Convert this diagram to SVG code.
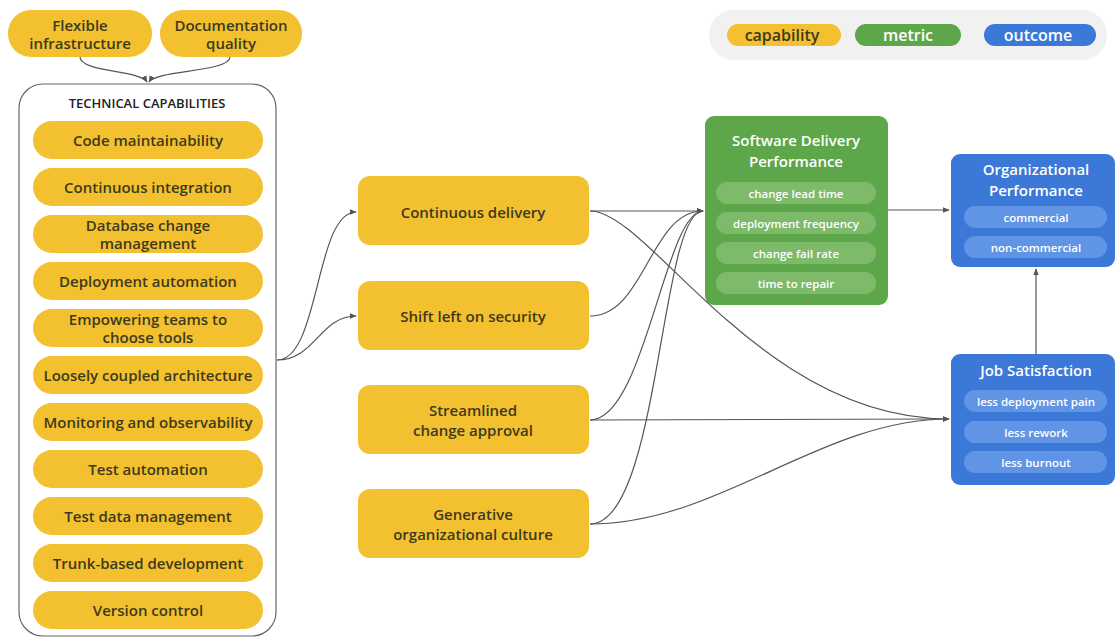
<svg xmlns="http://www.w3.org/2000/svg" width="1115" height="638" viewBox="0 0 1115 638">
<style>
text{font-family:"Open Sans","Liberation Sans",sans-serif;text-anchor:middle;dominant-baseline:central}
.cap{fill:#F3C02F}
.ct{fill:#3d3a1c;font-size:15px;font-weight:600}
.wt{fill:#fff;font-size:15px;font-weight:600}
.pt{fill:#fff;font-size:11.5px;font-weight:600}
.gp{fill:#7dba6a}
.bp{fill:#6095e6}
.conn{fill:none;stroke:#555;stroke-width:1.2}
</style>
<defs>
<marker id="ah" viewBox="0 0 10 10" refX="9" refY="5" markerWidth="7" markerHeight="7" orient="auto" markerUnits="userSpaceOnUse">
<path d="M0,1 L10,5 L0,9 z" fill="#555"/>
</marker>
</defs>
<rect width="1115" height="638" fill="#fff"/>

<g id="legend">
<rect x="709" y="10" width="398" height="50" rx="25" fill="#f1f1f1"/>
<rect x="727" y="24" width="114" height="22" rx="11" class="cap"/>
<text x="782" y="35" class="ct" style="font-size:16px">capability</text>
<rect x="855" y="24" width="106" height="22" rx="11" fill="#5da64a"/>
<text x="908" y="35" class="wt" style="font-size:16px">metric</text>
<rect x="984" y="24" width="112" height="22" rx="11" fill="#3b78d8"/>
<text x="1038" y="35" class="wt" style="font-size:16px">outcome</text>
</g>

<g id="flexible">
<rect x="8" y="10" width="144" height="47" rx="23" class="cap"/>
<text x="80" y="25" class="ct">Flexible</text>
<text x="80" y="43" class="ct">infrastructure</text>
</g>
<g id="documentation">
<rect x="160" y="10" width="142" height="47" rx="23" class="cap"/>
<text x="231" y="25" class="ct">Documentation</text>
<text x="231" y="43" class="ct">quality</text>
</g>

<g id="technical">
<rect x="19" y="84" width="257" height="552" rx="24" fill="#fff" stroke="#666" stroke-width="1.2"/>
<text x="147" y="103" style="fill:#222;font-size:13px;font-weight:600">TECHNICAL CAPABILITIES</text>
<rect x="33" y="121" width="230" height="38" rx="19" class="cap"/><text x="148" y="140" class="ct">Code maintainability</text>
<rect x="33" y="168" width="230" height="38" rx="19" class="cap"/><text x="148" y="187" class="ct">Continuous integration</text>
<rect x="33" y="215" width="230" height="38" rx="19" class="cap"/><text x="148" y="225" class="ct">Database change</text><text x="148" y="243" class="ct">management</text>
<rect x="33" y="262" width="230" height="38" rx="19" class="cap"/><text x="148" y="281" class="ct">Deployment automation</text>
<rect x="33" y="309" width="230" height="38" rx="19" class="cap"/><text x="148" y="319" class="ct">Empowering teams to</text><text x="148" y="337" class="ct">choose tools</text>
<rect x="33" y="356" width="230" height="38" rx="19" class="cap"/><text x="148" y="375" class="ct">Loosely coupled architecture</text>
<rect x="33" y="403" width="230" height="38" rx="19" class="cap"/><text x="148" y="422" class="ct">Monitoring and observability</text>
<rect x="33" y="450" width="230" height="38" rx="19" class="cap"/><text x="148" y="469" class="ct">Test automation</text>
<rect x="33" y="497" width="230" height="38" rx="19" class="cap"/><text x="148" y="516" class="ct">Test data management</text>
<rect x="33" y="544" width="230" height="38" rx="19" class="cap"/><text x="148" y="563" class="ct">Trunk-based development</text>
<rect x="33" y="591" width="230" height="38" rx="19" class="cap"/><text x="148" y="610" class="ct">Version control</text>
</g>

<g id="cd">
<rect x="358" y="176" width="231" height="69" rx="12" class="cap"/>
<text x="473" y="212" class="ct">Continuous delivery</text>
</g>
<g id="shiftleft">
<rect x="358" y="281" width="231" height="69" rx="12" class="cap"/>
<text x="473" y="316" class="ct">Shift left on security</text>
</g>
<g id="streamlined">
<rect x="358" y="385" width="231" height="69" rx="12" class="cap"/>
<text x="473" y="410" class="ct">Streamlined</text>
<text x="473" y="430" class="ct">change approval</text>
</g>
<g id="generative">
<rect x="358" y="489" width="231" height="69" rx="12" class="cap"/>
<text x="473" y="514" class="ct">Generative</text>
<text x="473" y="534" class="ct">organizational culture</text>
</g>

<g id="sdp">
<rect x="705" y="116" width="183" height="189" rx="9" fill="#5da64a"/>
<text x="796" y="140" class="wt">Software Delivery</text>
<text x="796" y="161" class="wt">Performance</text>
<rect x="716" y="182" width="160" height="22" rx="11" class="gp"/><text x="796" y="193" class="pt">change lead time</text>
<rect x="716" y="212" width="160" height="22" rx="11" class="gp"/><text x="796" y="223" class="pt">deployment frequency</text>
<rect x="716" y="242" width="160" height="22" rx="11" class="gp"/><text x="796" y="253" class="pt">change fail rate</text>
<rect x="716" y="272" width="160" height="22" rx="11" class="gp"/><text x="796" y="283" class="pt">time to repair</text>
</g>

<g id="orgperf">
<rect x="951" y="154" width="164" height="113" rx="9" fill="#3b78d8"/>
<text x="1036" y="169" class="wt">Organizational</text>
<text x="1036" y="190" class="wt">Performance</text>
<rect x="964" y="206" width="143" height="22" rx="11" class="bp"/><text x="1036" y="217" class="pt">commercial</text>
<rect x="964" y="236" width="143" height="22" rx="11" class="bp"/><text x="1036" y="247" class="pt">non-commercial</text>
</g>

<g id="jobsat">
<rect x="951" y="354" width="164" height="131" rx="9" fill="#3b78d8"/>
<text x="1036" y="370" class="wt">Job Satisfaction</text>
<rect x="964" y="390" width="143" height="22" rx="11" class="bp"/><text x="1036" y="401" class="pt">less deployment pain</text>
<rect x="964" y="421" width="143" height="22" rx="11" class="bp"/><text x="1036" y="432" class="pt">less rework</text>
<rect x="964" y="451" width="143" height="22" rx="11" class="bp"/><text x="1036" y="462" class="pt">less burnout</text>
</g>

<g id="connectors">
<path class="conn" marker-end="url(#ah)" d="M80,57 C80,72 140,70 147,82"/>
<path class="conn" marker-end="url(#ah)" d="M230,57 C230,72 156,70 149,82"/>
<path class="conn" marker-end="url(#ah)" d="M277,360 C320,360 315,212 356,212"/>
<path class="conn" marker-end="url(#ah)" d="M277,360 C315,360 320,316 356,316"/>
<path class="conn" marker-end="url(#ah)" d="M590,211 L703,211"/>
<path class="conn" marker-end="url(#ah)" d="M590,211 C650,211 760,419 949,419"/>
<path class="conn" marker-end="url(#ah)" d="M590,316 C645,316 650,211 703,211"/>
<path class="conn" marker-end="url(#ah)" d="M590,420 C645,420 665,211 703,211"/>
<path class="conn" d="M590,420 L940,419"/>
<path class="conn" marker-end="url(#ah)" d="M590,524 C660,524 660,211 703,211"/>
<path class="conn" marker-end="url(#ah)" d="M590,524 C720,524 820,419 949,419"/>
<path class="conn" marker-end="url(#ah)" d="M888,210 L949,210"/>
<path class="conn" marker-end="url(#ah)" d="M1036,354 L1036,269"/>
</g>
</svg>
